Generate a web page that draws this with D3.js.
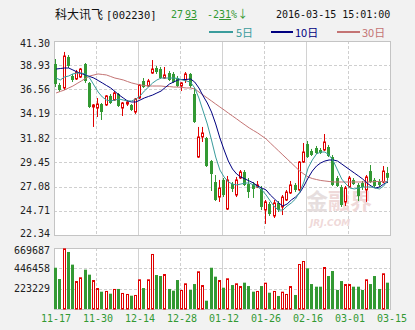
<!DOCTYPE html>
<html><head><meta charset="utf-8">
<script src="https://cdn.jsdelivr.net/npm/d3@7"></script>
<style>
html,body{margin:0;padding:0;background:#f2f2f2;}
svg{display:block;}
</style></head><body>
<svg id="c" width="415" height="330"></svg>
<script>
// ---- data ----
const tickLabels = ["11-17","11-30","12-14","12-28","01-12","01-26","02-16","03-01","03-15"];
const priceTicks = [41.30, 38.93, 36.56, 34.19, 31.82, 29.45, 27.08, 24.71, 22.34];
const volumeTicks = [669687, 446458, 223229];

const open = [39.05,37.00,36.71,39.74,37.88,37.59,37.78,39.05,37.20,34.85,
              34.75,35.14,35.05,35.93,35.53,36.12,34.75,35.14,35.05,34.36,
              35.73,37.39,36.90,38.17,38.66,38.56,37.68,38.17,38.08,37.68,
              36.90,37.49,38.08,36.12,29.96,31.92,31.82,29.57,27.52,26.05,
              27.72,24.88,27.32,26.25,27.91,28.50,27.32,27.32,27.03,26.84,
              24.78,25.37,24.20,25.47,25.08,25.76,26.45,27.23,26.74,29.47,
              31.23,30.55,30.84,30.65,30.65,30.94,29.96,27.91,27.03,25.57,
              27.03,27.72,27.23,27.42,26.74,28.59,27.72,27.62,27.52,28.40];
const high = [39.54,37.20,40.23,39.93,38.08,38.47,38.66,39.15,37.29,35.14,
              35.73,35.24,36.02,36.12,36.41,36.22,35.34,35.53,35.14,35.73,
              37.10,37.68,37.59,39.44,38.86,38.76,38.76,38.37,38.27,37.88,
              37.29,38.27,38.17,36.71,32.90,32.90,31.92,29.67,28.20,27.72,
              27.91,28.11,27.52,28.01,28.69,28.69,27.91,27.52,27.62,27.13,
              25.76,25.57,25.76,25.66,26.25,26.74,27.62,27.42,29.57,31.33,
              31.53,30.75,31.04,30.84,32.21,31.14,30.16,28.11,27.23,27.13,
              28.11,27.91,27.42,27.62,28.20,29.18,27.91,27.81,29.08,28.99];
const low  = [36.80,36.32,36.51,38.66,37.29,37.49,37.68,37.20,34.75,32.90,
              33.87,33.58,34.95,35.14,35.44,34.85,33.97,34.95,34.46,34.17,
              35.63,36.71,36.80,38.08,38.08,37.59,37.59,37.39,37.20,36.80,
              36.41,37.20,36.71,33.29,29.87,31.43,28.99,26.64,25.66,25.57,
              26.05,24.78,26.54,26.05,27.81,27.13,25.96,25.96,26.93,24.78,
              23.42,24.20,24.00,24.59,24.29,25.66,26.35,26.54,26.64,29.38,
              29.87,30.06,30.26,30.26,30.55,29.96,27.13,27.03,25.08,25.17,
              26.93,27.23,25.66,26.74,25.57,27.42,26.93,27.03,27.42,27.42];
const close = [37.10,36.51,39.83,38.86,37.49,38.27,38.56,37.39,34.85,35.05,
              35.14,34.36,35.93,35.24,36.22,34.95,35.24,35.34,34.56,35.63,
              37.00,36.80,37.39,38.56,38.27,37.68,37.98,37.49,37.29,36.90,
              37.20,38.08,36.90,33.38,31.92,32.31,29.08,28.30,25.76,26.93,
              26.25,27.72,26.84,27.72,28.50,27.23,26.54,26.84,27.23,25.08,
              25.57,24.39,25.47,24.78,26.05,26.54,27.23,26.74,29.47,30.45,
              29.96,30.16,30.35,30.35,31.43,30.06,27.23,27.13,25.27,26.93,
              27.91,27.32,26.15,27.03,28.01,27.52,27.13,27.23,28.59,27.93];
const volume = [453000,329000,666000,626000,487000,307000,348000,432000,377000,318000,
              230000,190000,198000,168000,220000,220000,176000,165000,146000,154000,
              326000,230000,326000,604000,373000,362000,384000,220000,201000,318000,
              209000,282000,209000,274000,414000,263000,91000,453000,355000,318000,
              234000,337000,263000,282000,252000,289000,252000,190000,198000,252000,
              289000,179000,198000,143000,190000,165000,252000,154000,494000,527000,
              447000,274000,245000,245000,461000,362000,417000,209000,307000,274000,
              274000,245000,245000,209000,326000,274000,362000,220000,392000,289000];
const ma5  = [37.68,37.49,37.78,37.88,38.08,38.17,38.17,38.08,37.68,37.00,
              36.32,35.83,35.53,35.44,35.53,35.63,35.53,35.44,35.44,35.63,
              35.93,36.41,36.80,37.20,37.49,37.68,37.68,37.68,37.68,37.64,
              37.49,37.39,37.29,36.71,35.73,34.46,33.19,31.62,29.96,28.69,
              28.01,27.52,27.32,27.23,27.32,27.42,27.42,27.23,27.03,26.74,
              26.25,25.66,25.08,24.78,24.78,25.17,25.47,25.86,26.54,27.52,
              28.89,29.67,30.26,30.45,30.45,30.16,29.57,28.69,27.81,27.32,
              26.93,26.84,26.93,27.03,27.03,27.03,26.93,26.84,27.13,27.72];
const ma10 = [38.56,38.61,38.66,38.66,38.47,38.27,38.12,37.98,37.83,37.68,
              37.44,37.20,36.95,36.71,36.37,36.02,35.73,35.44,35.34,35.34,
              35.53,35.73,35.88,36.02,36.22,36.41,36.76,37.10,37.29,37.49,
              37.54,37.54,37.59,37.29,36.71,35.93,35.24,34.36,33.19,31.82,
              30.65,29.57,28.79,28.30,28.01,27.81,27.62,27.42,27.13,26.93,
              26.74,26.25,25.86,25.47,25.17,25.37,25.76,26.05,26.45,27.13,
              27.91,28.59,29.08,29.38,29.57,29.67,29.67,29.57,29.28,28.99,
              28.69,28.40,28.11,27.81,27.42,27.13,26.93,27.03,27.32,27.52];
const ma30 = [36.22,36.37,36.51,36.71,36.90,37.15,37.39,37.64,37.88,37.98,
              38.08,38.03,37.98,37.83,37.68,37.59,37.49,37.34,37.20,37.10,
              37.00,36.95,36.90,36.90,36.90,36.90,36.85,36.85,36.80,36.80,
              36.76,36.71,36.71,36.61,36.32,36.02,35.73,35.44,35.14,34.85,
              34.56,34.26,33.97,33.68,33.38,33.09,32.80,32.55,32.31,32.02,
              31.73,31.33,30.94,30.55,30.16,29.77,29.38,28.99,28.59,28.30,
              28.01,27.86,27.76,27.67,27.62,27.57,27.52,27.52,27.52,27.52,
              27.52,27.52,27.52,27.52,27.52,27.52,27.57,27.57,27.57,27.57];

// ---- layout ----
const L = 54, R = 390, PT = 41, PB = 235, VT = 248, VB = 309;
const RED = "#e00000", GREEN = "#339933";
const C5 = "#3a9c9c", C10 = "#000080", C30 = "#c47474";
const mono = "'DejaVu Sans Mono', 'Liberation Mono', monospace";
const cjk = "'Noto Sans CJK SC', 'DejaVu Sans', sans-serif";

const svg = d3.select("#c");
const idx = d3.range(close.length);
const x = d3.scaleBand().domain(idx).range([L, R]).padding(0);
const xt = d3.scalePoint().domain(tickLabels).range([L, R]);
const y = d3.scaleLinear().domain([priceTicks[priceTicks.length-1], priceTicks[0]]).range([PB, PT]);
const yv = d3.scaleLinear().domain([0, volumeTicks[0]]).range([VB, VT]);

// panels
[[PT, PB], [VT, VB]].forEach(([t, b]) => {
  svg.append("rect").attr("x", L + 0.5).attr("y", t + 0.5).attr("width", R - L).attr("height", b - t)
    .attr("fill", "#fff").attr("stroke", "none");
});

// horizontal grid
const gh = svg.append("g").attr("stroke", "#cfcfcf").attr("stroke-dasharray", "3,2");
priceTicks.slice(1, -1).forEach(v => {
  const yy = Math.round(y(v)) + 0.5;
  gh.append("line").attr("x1", L).attr("x2", R).attr("y1", yy).attr("y2", yy);
});
volumeTicks.slice(1).forEach(v => {
  const yy = Math.round(yv(v)) + 0.5;
  gh.append("line").attr("x1", L).attr("x2", R).attr("y1", yy).attr("y2", yy);
});
// vertical grid
tickLabels.slice(1, -1).forEach((t, k) => {
  const xx = Math.round(xt(t)) + 0.5;
  [[PT, PB], [VT, VB]].forEach(([a, b]) => {
    svg.append("line").attr("x1", xx).attr("x2", xx).attr("y1", a).attr("y2", b)
      .attr("stroke", k % 2 === 0 ? "#cfcfcf" : "#d2d2d2")
      .attr("stroke-dasharray", k % 2 === 0 ? "3,2" : null);
  });
});

// watermark
svg.append("text").attr("x", 306).attr("y", 209).attr("font-family", cjk).attr("font-weight", "bold")
  .attr("font-size", 22).attr("fill", "#efd9d9")
  .call(t => { t.append("tspan").attr("fill", "#e6dede").text("金"); t.append("tspan").text("融界"); });
svg.append("text").attr("x", 310).attr("y", 226).attr("font-family", "'DejaVu Sans', sans-serif")
  .attr("font-weight", "bold").attr("font-style", "italic").attr("font-size", 9).attr("fill", "#efd9d9").text("JRJ.COM");

// borders
[[PT, PB], [VT, VB]].forEach(([t, b]) => {
  svg.append("rect").attr("x", L + 0.5).attr("y", t + 0.5).attr("width", R - L).attr("height", b - t)
    .attr("fill", "none").attr("stroke", "#c4c4c4");
});

// candles
const cx = i => Math.floor(x(i) + x.bandwidth() / 2 - 1.5);
const cg = svg.append("g");
idx.forEach(i => {
  const up = close[i] >= open[i];
  const col = up ? RED : GREEN;
  const x0 = cx(i), xm = x0 + 1.5;
  const yt = y(Math.max(open[i], close[i])), yb = y(Math.min(open[i], close[i]));
  if (up) {
    cg.append("line").attr("x1", xm).attr("x2", xm).attr("y1", y(high[i])).attr("y2", yt).attr("stroke", col);
    cg.append("line").attr("x1", xm).attr("x2", xm).attr("y1", yb).attr("y2", y(low[i])).attr("stroke", col);
    cg.append("rect").attr("x", x0 + 0.5).attr("y", yt).attr("width", 2).attr("height", Math.max(1, yb - yt))
      .attr("fill", "#fff").attr("stroke", col);
  } else {
    cg.append("line").attr("x1", xm).attr("x2", xm).attr("y1", y(high[i])).attr("y2", y(low[i])).attr("stroke", col);
    cg.append("rect").attr("x", x0).attr("y", yt).attr("width", 3).attr("height", Math.max(1, yb - yt))
      .attr("fill", col);
  }
});

// moving averages
const line = arr => d3.line().x((d, i) => x(i) + x.bandwidth() / 2).y(d => y(d))(arr);
[[ma30, C30], [ma10, C10], [ma5, C5]].forEach(([arr, c]) => {
  svg.append("path").attr("d", line(arr)).attr("fill", "none").attr("stroke", c).attr("stroke-width", 1);
});

// volume bars
const vg = svg.append("g");
idx.forEach(i => {
  const up = close[i] >= open[i];
  const x0 = cx(i);
  const top = yv(volume[i]);
  if (up) {
    vg.append("rect").attr("x", x0 + 0.5).attr("y", top + 0.5).attr("width", 2).attr("height", VB - top - 0.5)
      .attr("fill", "#fff").attr("stroke", RED);
  } else {
    vg.append("rect").attr("x", x0).attr("y", top).attr("width", 3).attr("height", VB - top).attr("fill", GREEN);
  }
});

// axis labels
const ax = svg.append("g").attr("font-family", mono).attr("font-size", 10).attr("fill", "#222").attr("text-anchor", "end");
priceTicks.forEach((v, k) => {
  let yy = y(v);
  if (k === 0) yy += 2.5;
  if (k === priceTicks.length - 1) yy -= 2;
  ax.append("text").attr("x", 50).attr("y", yy).attr("dy", "0.36em").text(v.toFixed(2));
});
volumeTicks.forEach((v, k) => {
  let yy = yv(v);
  if (k === 0) yy += 2;
  ax.append("text").attr("x", 50).attr("y", yy).attr("dy", "0.36em").text(String(v));
});
const xl = svg.append("g").attr("font-family", mono).attr("font-size", 10).attr("fill", "#339933").attr("text-anchor", "middle");
tickLabels.forEach(t => {
  xl.append("text").attr("x", xt(t) + 2).attr("y", 322).text(t);
});

// header
const h = svg.append("text").attr("x", 55).attr("y", 19).attr("font-size", 12).attr("fill", "#111");
h.append("tspan").attr("font-family", cjk).text("科大讯飞");
h.append("tspan").attr("font-family", mono).attr("font-size", 10.5).attr("dx", 3).text("[002230]");
const pr = svg.append("text").attr("x", 171).attr("y", 18).attr("font-family", mono).attr("font-size", 10).attr("fill", "#339933");
pr.append("tspan").text("27");
pr.append("tspan").attr("dx", 2).attr("text-decoration", "underline").text("93");
const pc = svg.append("text").attr("x", 207).attr("y", 18).attr("font-family", mono).attr("font-size", 10).attr("fill", "#339933");
pc.append("tspan").text("-2");
pc.append("tspan").attr("text-decoration", "underline").text("31");
pc.append("tspan").text("%");
pc.append("tspan").attr("font-family", cjk).attr("font-size", 11).text("↓");
svg.append("text").attr("x", 276).attr("y", 18).attr("font-family", mono).attr("font-size", 10).attr("fill", "#111")
  .text("2016-03-15 15:01:00");

// legend
const legendItems = [["5日", C5, 209, 233, 236], ["10日", C10, 271, 293, 295], ["30日", C30, 337, 360, 362]];
legendItems.forEach(([t, c, a, b, tx]) => {
  svg.append("line").attr("x1", a).attr("x2", b).attr("y1", 32).attr("y2", 32).attr("stroke", c).attr("stroke-width", 2);
  svg.append("text").attr("x", tx).attr("y", 36.5).attr("font-family", cjk).attr("font-size", 11).attr("fill", c).text(t);
});
</script>
</body></html>
